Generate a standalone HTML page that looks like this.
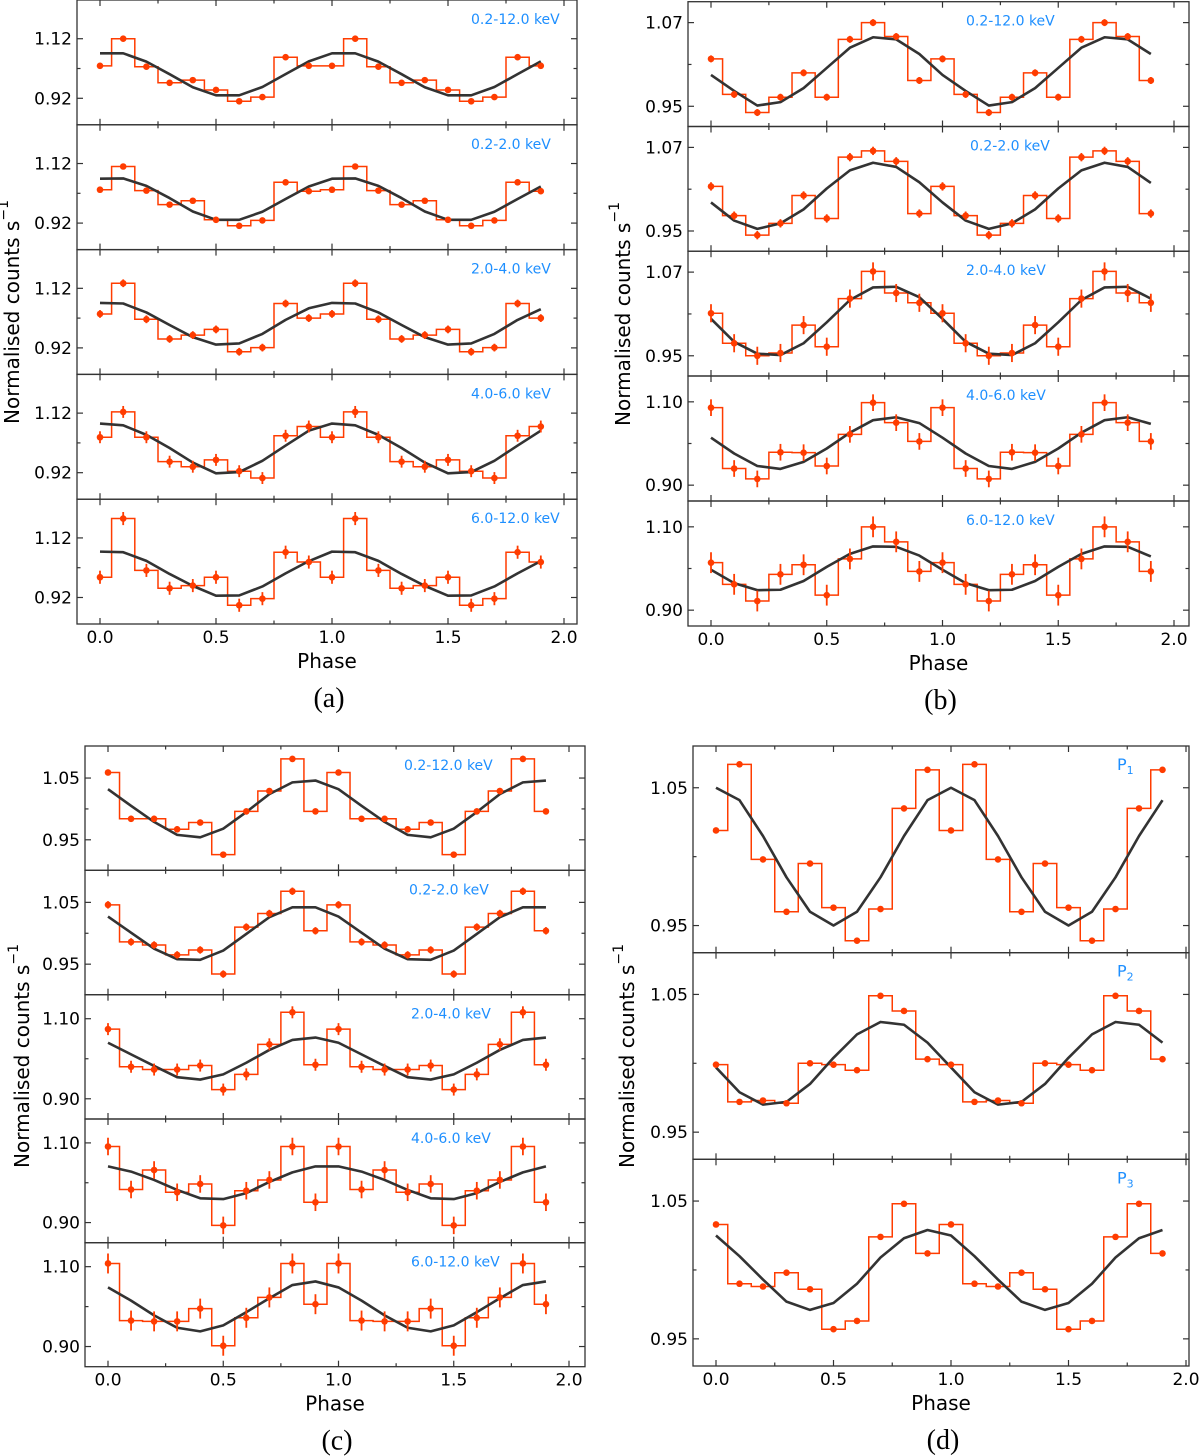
<!DOCTYPE html>
<html><head><meta charset="utf-8"><style>
html,body{margin:0;padding:0;background:#fff;}
svg{display:block;}
text{font-family:"DejaVu Sans","Liberation Sans",sans-serif;}
</style></head>
<body>
<svg id="fig" width="1200" height="1456" viewBox="0 0 1200 1456" xmlns="http://www.w3.org/2000/svg"></svg>
<script>
const phase=[0,0.1,0.2,0.3,0.4,0.5,0.6,0.7,0.8,0.9,1.0,1.1,1.2,1.3,1.4,1.5,1.6,1.7,1.8,1.9];
const xTicksMajor=[0,0.5,1.0,1.5,2.0];
const xTicksMinor=[0.25,0.75,1.25,1.75];
const xTickLabels=["0.0","0.5","1.0","1.5","2.0"];
// panel (a)
const a1o=[1.029,1.12,1.026,0.972,0.981,0.948,0.910,0.924,1.058,1.029,1.029,1.12,1.026,0.972,0.981,0.948,0.910,0.924,1.058,1.029];
const a1m=[1.071,1.071,1.043,1.001,0.957,0.930,0.930,0.958,1.001,1.044,1.071,1.071,1.043,1.001,0.957,0.930,0.930,0.958,1.001,1.044];
const a2o=[1.032,1.110,1.029,0.982,0.995,0.931,0.911,0.929,1.057,1.027,1.032,1.110,1.029,0.982,0.995,0.931,0.911,0.929,1.057,1.027];
const a2m=[1.069,1.070,1.045,1.004,0.959,0.931,0.931,0.958,1.001,1.043,1.069,1.070,1.045,1.004,0.959,0.931,0.931,0.958,1.001,1.043];
const a3o=[1.034,1.137,1.016,0.950,0.963,0.982,0.907,0.921,1.069,1.020,1.034,1.137,1.016,0.950,0.963,0.982,0.907,0.921,1.069,1.020];
const a3m=[1.071,1.069,1.039,0.997,0.956,0.931,0.935,0.967,1.014,1.053,1.071,1.069,1.039,0.997,0.956,0.931,0.935,0.967,1.014,1.050];
const a4o=[1.039,1.124,1.039,0.957,0.940,0.963,0.925,0.902,1.044,1.075,1.039,1.124,1.039,0.957,0.940,0.963,0.925,0.902,1.044,1.075];
const a4m=[1.085,1.079,1.047,1.003,0.954,0.918,0.922,0.960,1.011,1.061,1.085,1.079,1.047,1.003,0.954,0.918,0.922,0.960,1.011,1.061];
const a5o=[0.988,1.185,1.011,0.951,0.960,0.988,0.894,0.916,1.072,1.039,0.988,1.185,1.011,0.951,0.960,0.988,0.894,0.916,1.072,1.039];
const a5m=[1.074,1.072,1.043,0.999,0.959,0.926,0.927,0.957,1.001,1.042,1.074,1.072,1.043,0.999,0.959,0.926,0.927,0.957,1.001,1.042];
// panel (b)
const b1o=[1.018,0.967,0.941,0.963,0.998,0.963,1.046,1.070,1.050,0.987,1.018,0.967,0.941,0.963,0.998,0.963,1.046,1.070,1.050,0.987];
const b1m=[0.995,0.972,0.951,0.956,0.976,1.005,1.034,1.049,1.046,1.025,0.995,0.972,0.951,0.956,0.976,1.005,1.034,1.049,1.046,1.025];
const b2o=[1.014,0.972,0.944,0.961,1.001,0.968,1.056,1.065,1.050,0.975,1.014,0.972,0.944,0.961,1.001,0.968,1.056,1.065,1.050,0.975];
const b2m=[0.991,0.965,0.953,0.961,0.981,1.011,1.037,1.048,1.042,1.020,0.991,0.965,0.953,0.961,0.981,1.011,1.037,1.048,1.042,1.019];
const b3o=[1.011,0.968,0.950,0.954,0.994,0.963,1.032,1.071,1.040,1.026,1.011,0.968,0.950,0.954,0.994,0.963,1.032,1.071,1.040,1.026];
const b3m=[1.003,0.970,0.953,0.951,0.968,0.998,1.030,1.048,1.049,1.034,1.003,0.970,0.953,0.951,0.968,0.998,1.030,1.048,1.049,1.032];
const b4o=[1.086,0.940,0.915,0.979,0.978,0.946,1.022,1.098,1.050,1.005,1.086,0.940,0.915,0.979,0.978,0.946,1.022,1.098,1.050,1.005];
const b4m=[1.014,0.976,0.946,0.939,0.956,0.988,1.026,1.056,1.063,1.049,1.014,0.976,0.946,0.939,0.956,0.988,1.026,1.056,1.063,1.047];
const b5o=[1.014,0.962,0.922,0.986,1.009,0.936,1.023,1.100,1.064,0.993,1.014,0.962,0.922,0.986,1.009,0.936,1.023,1.100,1.064,0.993];
const b5m=[0.997,0.965,0.948,0.949,0.970,1.004,1.035,1.053,1.052,1.031,0.997,0.965,0.948,0.949,0.970,1.004,1.035,1.053,1.052,1.029];
// panel (c)
const c1o=[1.059,0.984,0.984,0.967,0.978,0.926,0.996,1.029,1.081,0.996,1.059,0.984,0.984,0.967,0.978,0.926,0.996,1.029,1.081,0.996];
const c1m=[1.032,1.005,0.979,0.958,0.954,0.968,0.995,1.024,1.043,1.046,1.032,1.005,0.979,0.958,0.954,0.968,0.995,1.024,1.043,1.046];
const c2o=[1.046,0.986,0.981,0.965,0.973,0.934,1.010,1.032,1.068,1.004,1.046,0.986,0.981,0.965,0.973,0.934,1.010,1.032,1.068,1.004];
const c2m=[1.027,1.001,0.975,0.958,0.957,0.972,0.999,1.026,1.042,1.042,1.027,1.001,0.975,0.958,0.957,0.972,0.999,1.026,1.042,1.042];
const c3o=[1.074,0.980,0.973,0.973,0.983,0.923,0.961,1.036,1.116,0.985,1.074,0.980,0.973,0.973,0.983,0.923,0.961,1.036,1.116,0.985];
const c3m=[1.040,1.011,0.982,0.954,0.948,0.961,0.990,1.022,1.047,1.053,1.040,1.011,0.982,0.954,0.948,0.961,0.990,1.022,1.047,1.053];
const c4o=[1.091,0.983,1.032,0.976,0.997,0.893,0.980,1.007,1.091,0.951,1.091,0.983,1.032,0.976,0.997,0.893,0.980,1.007,1.091,0.951];
const c4m=[1.041,1.028,1.007,0.982,0.961,0.959,0.974,1.002,1.026,1.041,1.041,1.028,1.007,0.982,0.961,0.959,0.974,1.002,1.026,1.041];
const c5o=[1.108,0.965,0.963,0.963,0.995,0.902,0.972,1.023,1.108,1.006,1.108,0.965,0.963,0.963,0.995,0.902,0.972,1.023,1.108,1.006];
const c5m=[1.048,1.015,0.978,0.947,0.938,0.953,0.986,1.021,1.054,1.063,1.048,1.015,0.978,0.947,0.938,0.953,0.986,1.021,1.054,1.063];
// panel (d)
const d1o=[1.019,1.067,0.998,0.960,0.995,0.963,0.939,0.962,1.035,1.063,1.019,1.067,0.998,0.960,0.995,0.963,0.939,0.962,1.035,1.063];
const d1m=[1.050,1.041,1.015,0.985,0.960,0.950,0.960,0.985,1.015,1.041,1.050,1.041,1.015,0.985,0.960,0.950,0.960,0.985,1.015,1.041];
const d2o=[0.999,0.972,0.973,0.971,1.000,0.999,0.995,1.049,1.038,1.003,0.999,0.972,0.973,0.971,1.000,0.999,0.995,1.049,1.038,1.003];
const d2m=[0.997,0.979,0.970,0.972,0.985,1.004,1.021,1.030,1.028,1.015,0.997,0.979,0.970,0.972,0.985,1.004,1.021,1.030,1.028,1.015];
const d3o=[1.033,0.990,0.988,0.998,0.986,0.957,0.963,1.024,1.048,1.012,1.033,0.990,0.988,0.998,0.986,0.957,0.963,1.024,1.048,1.012];
const d3m=[1.025,1.010,0.993,0.977,0.971,0.976,0.990,1.009,1.023,1.029,1.025,1.010,0.993,0.977,0.971,0.976,0.990,1.009,1.023,1.029];
// error half-widths per row
const errA=[0.005,0.006,0.013,0.02,0.022];
const errB=[0.005,0.006,0.013,0.02,0.025];
const errC=[0.005,0.006,0.015,0.022,0.025];
const errD=[0.002,0.002,0.002];

const NS="http://www.w3.org/2000/svg";
const svg=document.getElementById('fig');
function mk(tag,attrs,parent){const e=document.createElementNS(NS,tag);for(const k in attrs)e.setAttribute(k,attrs[k]);(parent||svg).appendChild(e);return e;}

const RED="#ff3c00", MODEL="#333333", BLUE="#1e8fff";
const panels=[
 {id:'a',x0:100,x1:564,left:77,right:577,ylx:12,yly:312,rows:[
  {top:0,bot:124.8,lo:0.831,hi:1.250,major:[0.92,1.12],minor:[1.02],label:'0.2-12.0 keV',lx:471,anchor:'start',obs:a1o,mod:a1m,err:errA[0]},
  {top:124.8,bot:249.6,lo:0.831,hi:1.250,major:[0.92,1.12],minor:[1.02],label:'0.2-2.0 keV',lx:471,anchor:'start',obs:a2o,mod:a2m,err:errA[1]},
  {top:249.6,bot:374.4,lo:0.831,hi:1.250,major:[0.92,1.12],minor:[1.02],label:'2.0-4.0 keV',lx:471,anchor:'start',obs:a3o,mod:a3m,err:errA[2]},
  {top:374.4,bot:499.2,lo:0.831,hi:1.250,major:[0.92,1.12],minor:[1.02],label:'4.0-6.0 keV',lx:471,anchor:'start',obs:a4o,mod:a4m,err:errA[3]},
  {top:499.2,bot:624,lo:0.831,hi:1.250,major:[0.92,1.12],minor:[1.02],label:'6.0-12.0 keV',lx:471,anchor:'start',obs:a5o,mod:a5m,err:errA[4]}]},
 {id:'b',x0:711,x1:1174,left:688,right:1189,ylx:623,yly:314,rows:[
  {top:1.7,bot:126.5,lo:0.921,hi:1.100,major:[0.95,1.07],minor:[1.01],label:'0.2-12.0 keV',lx:966,anchor:'start',obs:b1o,mod:b1m,err:errB[0]},
  {top:126.5,bot:251.2,lo:0.921,hi:1.100,major:[0.95,1.07],minor:[1.01],label:'0.2-2.0 keV',lx:970,anchor:'start',obs:b2o,mod:b2m,err:errB[1]},
  {top:251.2,bot:376,lo:0.921,hi:1.100,major:[0.95,1.07],minor:[1.01],label:'2.0-4.0 keV',lx:966,anchor:'start',obs:b3o,mod:b3m,err:errB[2]},
  {top:376,bot:501,lo:0.862,hi:1.162,major:[0.90,1.10],minor:[1.00],label:'4.0-6.0 keV',lx:966,anchor:'start',obs:b4o,mod:b4m,err:errB[3]},
  {top:501,bot:626,lo:0.862,hi:1.162,major:[0.90,1.10],minor:[1.00],label:'6.0-12.0 keV',lx:966,anchor:'start',obs:b5o,mod:b5m,err:errB[4]}]},
 {id:'c',x0:108,x1:569,left:85,right:585,ylx:22,yly:1056,rows:[
  {top:746,bot:870.3,lo:0.9006,hi:1.1019,major:[0.95,1.05],minor:[1.00],label:'0.2-12.0 keV',lx:404,anchor:'start',obs:c1o,mod:c1m,err:errC[0]},
  {top:870.3,bot:994.7,lo:0.9006,hi:1.1019,major:[0.95,1.05],minor:[1.00],label:'0.2-2.0 keV',lx:409,anchor:'start',obs:c2o,mod:c2m,err:errC[1]},
  {top:994.7,bot:1119,lo:0.8495,hi:1.160,major:[0.90,1.10],minor:[1.00],label:'2.0-4.0 keV',lx:411,anchor:'start',obs:c3o,mod:c3m,err:errC[2]},
  {top:1119,bot:1242.7,lo:0.8495,hi:1.160,major:[0.90,1.10],minor:[1.00],label:'4.0-6.0 keV',lx:411,anchor:'start',obs:c4o,mod:c4m,err:errC[3]},
  {top:1242.7,bot:1366.7,lo:0.8495,hi:1.160,major:[0.90,1.10],minor:[1.00],label:'6.0-12.0 keV',lx:411,anchor:'start',obs:c5o,mod:c5m,err:errC[4]}]},
 {id:'d',x0:716,x1:1186,left:693,right:1189,ylx:627,yly:1056,rows:[
  {top:746,bot:952.7,lo:0.9303,hi:1.0803,major:[0.95,1.05],minor:[1.00],label:'P',sub:'1',lx:1117,anchor:'start',obs:d1o,mod:d1m,err:errD[0]},
  {top:952.7,bot:1159.3,lo:0.9303,hi:1.0803,major:[0.95,1.05],minor:[1.00],label:'P',sub:'2',lx:1117,anchor:'start',obs:d2o,mod:d2m,err:errD[1]},
  {top:1159.3,bot:1366,lo:0.9303,hi:1.0803,major:[0.95,1.05],minor:[1.00],label:'P',sub:'3',lx:1117,anchor:'start',obs:d3o,mod:d3m,err:errD[2]}]}
];

panels.forEach(p=>{
  const g=mk('g',{});
  
  
  const X=v=>p.x0+(p.x1-p.x0)*v/2;
  p.rows.forEach((r,ri)=>{
    const Y=v=>r.bot-(v-r.lo)/(r.hi-r.lo)*(r.bot-r.top);
    const rg=mk('g',{},g);
    
    
    let d='';
    const n=phase.length;
    for(let i=0;i<n;i++){
      const xs=i===0?X(phase[i]):X(phase[i]-0.05);
      const xe=i===n-1?X(phase[i]):X(phase[i]+0.05);
      const y=Y(r.obs[i]);
      d+=(i===0?'M'+xs.toFixed(2)+','+y.toFixed(2):'V'+y.toFixed(2))+'H'+xe.toFixed(2);
    }
    const st=mk('path',{d:d,fill:'none',stroke:RED,'stroke-width':1.5},rg);
    
    
    let md='';
    for(let i=0;i<n;i++){md+=(i?'L':'M')+X(phase[i]).toFixed(2)+','+Y(r.mod[i]).toFixed(2);}
    const ml=mk('path',{d:md,fill:'none',stroke:MODEL,'stroke-width':2.6,'stroke-linejoin':'round'},rg);
    
    
    for(let i=0;i<n;i++){
      const cx=X(phase[i]);
      const eb=mk('line',{x1:cx,x2:cx,y1:Y(r.obs[i]-r.err),y2:Y(r.obs[i]+r.err),stroke:RED,'stroke-width':1.8},rg);
      
      
      const pt=mk('circle',{cx:cx,cy:Y(r.obs[i]),r:3.3,fill:RED},rg);
      
      
    }
    const fr=mk('rect',{x:p.left,y:r.top,width:p.right-p.left,height:r.bot-r.top,fill:'none',stroke:'#333','stroke-width':1.3},rg);
    
    
    const tk=(list,len)=>list.forEach(v=>{
      const x=X(v);
      mk('line',{x1:x,x2:x,y1:r.bot,y2:r.bot-len,stroke:'#333','stroke-width':1.2},rg);
      mk('line',{x1:x,x2:x,y1:r.top,y2:r.top+len,stroke:'#333','stroke-width':1.2},rg);
    });
    tk(xTicksMajor,6);tk(xTicksMinor,3.5);
    const ytk=(list,len)=>list.forEach(v=>{
      const y=Y(v);
      mk('line',{x1:p.left,x2:p.left+len,y1:y,y2:y,stroke:'#333','stroke-width':1.2},rg);
      mk('line',{x1:p.right,x2:p.right-len,y1:y,y2:y,stroke:'#333','stroke-width':1.2},rg);
    });
    ytk(r.major,6);ytk(r.minor,3.5);
    r.major.forEach(v=>{
      const t=mk('text',{x:p.left-5,y:Y(v)+6,'text-anchor':'end','font-size':17,fill:'#000'},rg);
      t.textContent=v.toFixed(2);
      
      
    });
    const lb=mk('text',{x:r.lx,y:r.top+24,'text-anchor':r.anchor,'font-size':r.sub?16:14,fill:BLUE},rg);
    
    
    lb.textContent=r.label;
    if(r.sub){const s=mk('tspan',{dy:4,'font-size':11},lb);s.textContent=r.sub;}
    if(ri===p.rows.length-1){
      xTicksMajor.forEach((v,k)=>{
        const t=mk('text',{x:X(v),y:r.bot+19,'text-anchor':'middle','font-size':17,fill:'#000'},g);
        t.textContent=xTickLabels[k];
        
        
      });
      const cxm=(p.left+p.right)/2;
      const xl=mk('text',{x:cxm,y:r.bot+44,'text-anchor':'middle','font-size':20,fill:'#000'},g);
      xl.textContent='Phase';
      
      
      const cp=mk('text',{x:cxm+2,y:r.bot+83,'text-anchor':'middle',fill:'#000',style:'font-family:"Liberation Serif",serif;font-size:28px;'},g);
      cp.textContent='('+p.id+')';
      
      
    }
  });
  const yl=mk('text',{x:p.ylx,y:p.yly,'text-anchor':'middle','font-size':20,fill:'#000',transform:'rotate(-90 '+p.ylx+' '+p.yly+')','dominant-baseline':'central'},g);
  
  
  yl.textContent='Normalised counts s';
  const sp=mk('tspan',{dy:-8,'font-size':14},yl);sp.textContent='\u22121';
});
</script>
</body></html>
